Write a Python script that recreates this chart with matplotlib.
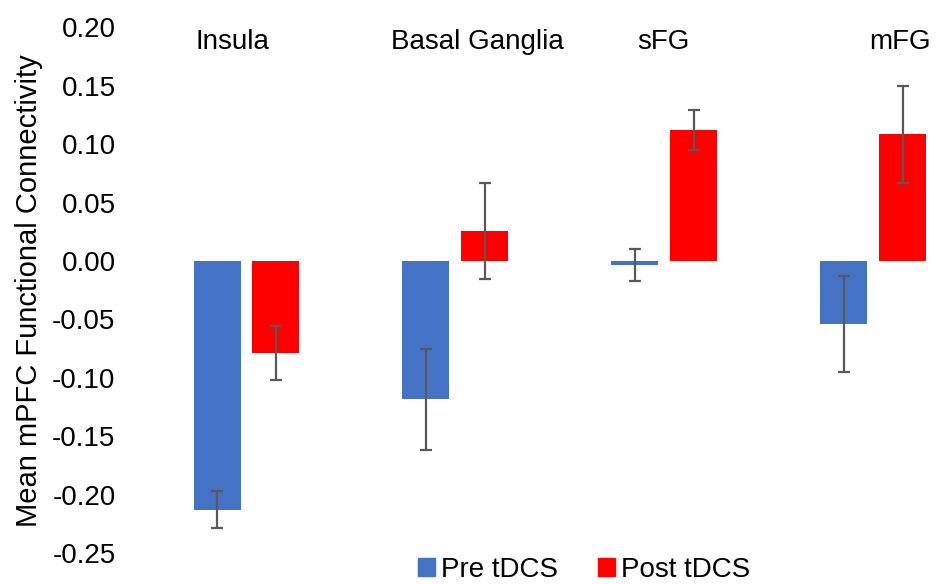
import matplotlib
matplotlib.use("Agg")
import matplotlib.pyplot as plt
import numpy as np
from matplotlib.patches import Patch

plt.rcParams['font.family'] = ['Liberation Sans', 'DejaVu Sans']

categories = ["Insula", "Basal Ganglia", "sFG", "mFG"]
pre_vals = [-0.213, -0.1185, -0.0035, -0.054]
pre_err = [0.016, 0.043, 0.0137, 0.0414]
post_vals = [-0.079, 0.026, 0.112, 0.1085]
post_err = [0.0233, 0.041, 0.0171, 0.0417]
label_x = [-0.065, 1.103, 1.997, 3.127]
yticks = [-0.25, -0.20, -0.15, -0.10, -0.05, 0.00, 0.05, 0.10, 0.15, 0.20]

fig = plt.figure(figsize=(9.36, 5.84), dpi=100)
ax = fig.add_axes([0.1517, 0.0531, 0.893, 0.900])

x = np.arange(len(categories))
w = 0.225
off = 0.141
blue = "#4472C4"
red = "#FF0000"
ekw = dict(ecolor="#595959", elinewidth=1.6, capsize=4.5, capthick=1.6)
ax.bar(x - off, pre_vals, w, color=blue, yerr=pre_err, error_kw=ekw, label="Pre tDCS")
ax.bar(x + off, post_vals, w, color=red, yerr=post_err, error_kw=ekw, label="Post tDCS")

ax.set_xlim(-0.5, 3.5)
ax.set_ylim(-0.25, 0.20)
ax.set_yticks(yticks)
ax.set_yticklabels([f"{t:.2f}" for t in yticks], fontsize=20)
ax.tick_params(axis='y', length=0, pad=19)
ax.set_xticks([])
for s in ax.spines.values():
    s.set_visible(False)
ax.set_ylabel("Mean mPFC Functional Connectivity", fontsize=21, labelpad=7)

for lx, c in zip(label_x, categories):
    ax.text(lx, 0.1875, c, ha='center', va='center', fontsize=20)

handles = [Patch(color=blue, label="Pre tDCS"), Patch(color=red, label="Post tDCS")]
fig.legend(handles=handles, loc='center', bbox_to_anchor=(0.624, 0.024), ncol=2,
           frameon=False, fontsize=20, handlelength=0.62, handleheight=0.62,
           handletextpad=0.2, columnspacing=1.44, borderpad=0)

fig.savefig("out.png", dpi=100)
